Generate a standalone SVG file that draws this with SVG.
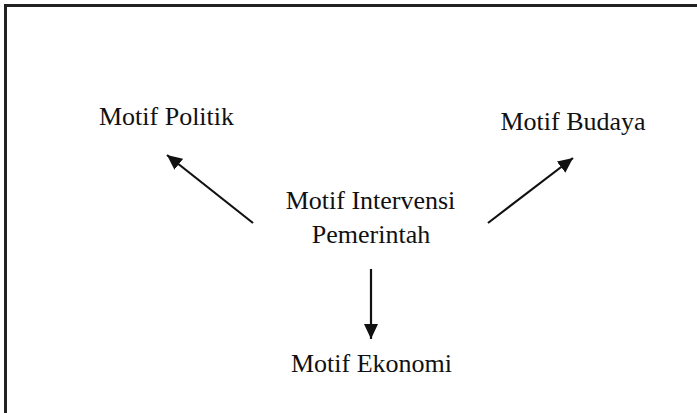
<svg xmlns="http://www.w3.org/2000/svg" width="697" height="413" viewBox="0 0 697 413">
  <style>
    .lbl { font-family: "Liberation Serif", "Times New Roman", serif; font-size: 26px; fill: #111; text-anchor: middle; }
    .conn { stroke: #111; stroke-width: 2.2; fill: none; marker-end: url(#arrow); }
  </style>
  <defs>
    <marker id="arrow" markerUnits="userSpaceOnUse" markerWidth="16" markerHeight="16" viewBox="0 0 16 16" refX="15" refY="8" orient="auto">
      <path d="M0,1 L15,8 L0,15 Z" fill="#111"/>
    </marker>
  </defs>
  <rect x="0" y="0" width="697" height="413" fill="#fff"/>
  <!-- frame -->
  <rect x="5.5" y="5.5" width="700" height="420" fill="none" stroke="#222" stroke-width="3"/>

  <g id="center">
    <text class="lbl" x="370.5" y="209">Motif Intervensi</text>
    <text class="lbl" x="371" y="243">Pemerintah</text>
  </g>
  <g id="politik">
    <text class="lbl" x="166.5" y="125">Motif Politik</text>
  </g>
  <g id="budaya">
    <text class="lbl" x="573" y="130">Motif Budaya</text>
  </g>
  <g id="ekonomi">
    <text class="lbl" x="371.5" y="372">Motif Ekonomi</text>
  </g>

  <g id="connectors">
    <line class="conn" x1="253" y1="223" x2="167" y2="155"/>
    <line class="conn" x1="488" y1="223" x2="573" y2="158"/>
    <line class="conn" x1="371" y1="269" x2="371" y2="339"/>
  </g>
</svg>
